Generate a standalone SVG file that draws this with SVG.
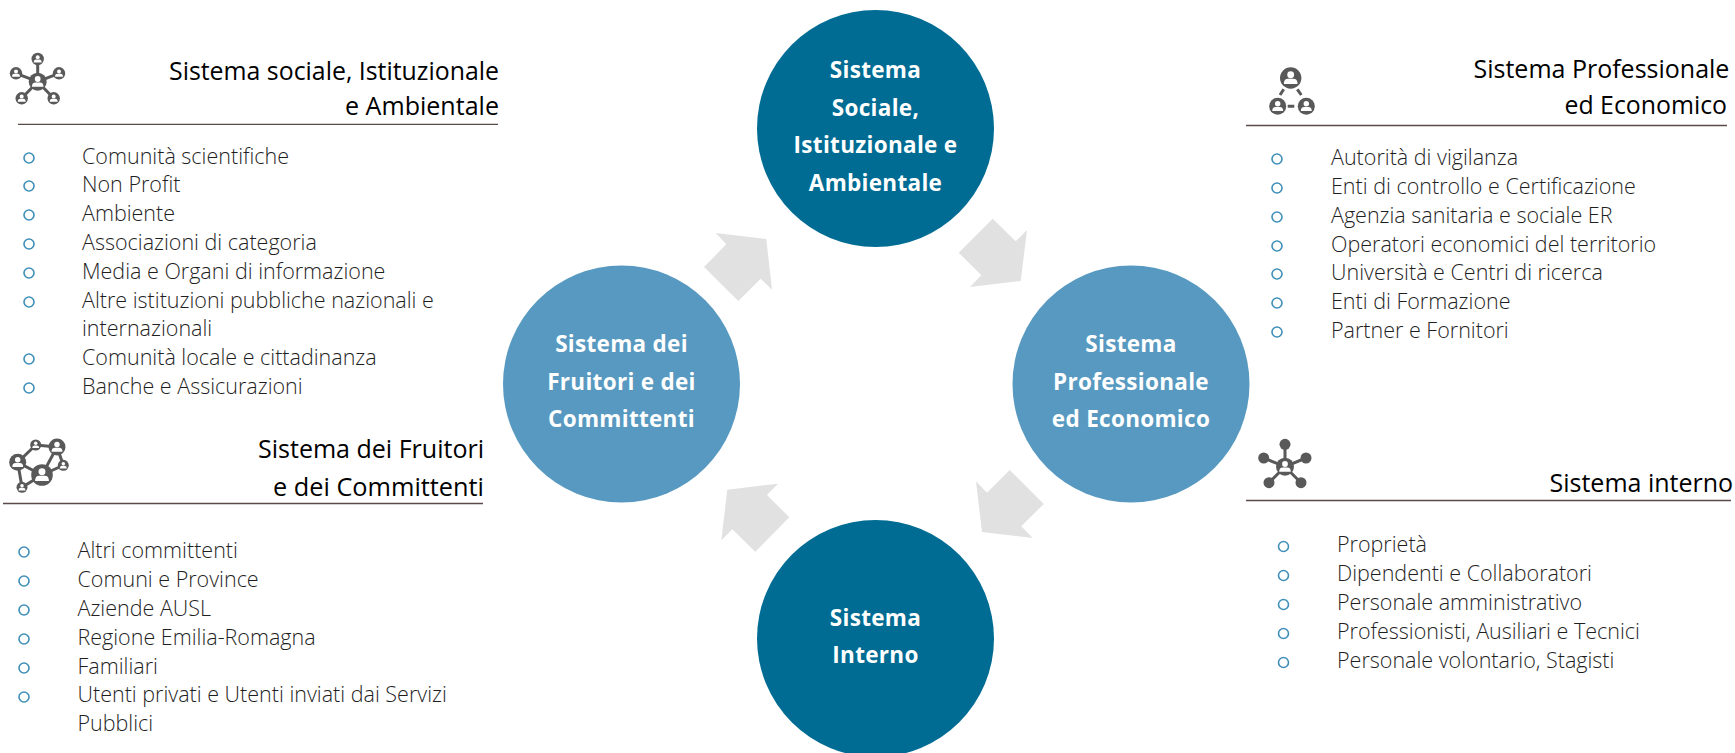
<svg xmlns="http://www.w3.org/2000/svg" width="1735" height="753" viewBox="0 0 1735 753">
<style>
.t{font-family:"Open Sans","Noto Sans","Liberation Sans",sans-serif;font-weight:300;font-size:21.500px;fill:#1f1f1f}
.h{font-family:"Open Sans","Noto Sans","Liberation Sans",sans-serif;font-weight:400;font-size:26px;fill:#000}
.s{font-size:25px}
.c{font-family:"Open Sans","Noto Sans","Liberation Sans",sans-serif;font-weight:700;font-size:22.500px;letter-spacing:.3px;fill:#fff;text-anchor:middle}
.b{fill:none;stroke:#3f8fb8;stroke-width:1.6}
.r{stroke:#5b4a4a;stroke-width:1.3}
.l{stroke:#595959;stroke-width:3;fill:none}
.a{fill:#e1e1e1}
.d{fill:#006c93}.m{fill:#5799c0}
.i{fill:#595959}
</style>
<defs>
<g id="p"><circle r="10" class="i"/><circle cy="-3" r="3.200" fill="#fff"/><path d="M-6.400 5.600Q-6.400 .8-2.500 .8H2.500Q6.400 .8 6.400 5.600Z" fill="#fff"/></g>
</defs>
<g id="connectors">
<polygon class="a" points="992.7,218.7 1015.7,241.3 1027,230 1020.7,281 970,287 981.3,275.3 958.7,252.7"/>
<polygon class="a" points="976,481.3 987,492.7 1009.7,470 1043.7,504 1021.3,526.3 1032.7,538 982,532"/>
<polygon class="a" points="778,483.7 767,495 789.3,517.3 755.3,551.7 732.3,529.3 721.3,540.3 727.3,489.7"/>
<polygon class="a" points="715.7,233 766.3,239 772,289.7 760.7,278.7 738.3,301 704,267 726.3,244.3"/>
</g>
<g id="node-sociale"><circle class="d" cx="875.500" cy="128.500" r="118.500"/>
<text class="c" x="875.500" y="78">Sistema</text><text class="c" x="875.500" y="115.500">Sociale,</text><text class="c" x="875.500" y="153">Istituzionale e</text><text class="c" x="875.500" y="190.500">Ambientale</text></g>
<g id="node-professionale"><circle class="m" cx="1131" cy="384" r="118.500"/>
<text class="c" x="1131" y="352">Sistema</text><text class="c" x="1131" y="389.500">Professionale</text><text class="c" x="1131" y="427">ed Economico</text></g>
<g id="node-interno"><circle class="d" cx="875.500" cy="638.500" r="118.500"/>
<text class="c" x="875.500" y="626">Sistema</text><text class="c" x="875.500" y="663">Interno</text></g>
<g id="node-fruitori"><circle class="m" cx="621.500" cy="384" r="118.500"/>
<text class="c" x="621.500" y="352">Sistema dei</text><text class="c" x="621.500" y="389.500">Fruitori e dei</text><text class="c" x="621.500" y="427">Committenti</text></g>

<g id="panel-sociale">
<g id="icon-sociale"><path class="l" d="M37.700 81.700L37.700 59M37.700 81.700L16 73.300M37.700 81.700L59 73.300M37.700 81.700L21.700 98.300M37.700 81.700L53.700 98.300"/>
<use href="#p" transform="translate(37.700 81.700) scale(.9)"/><use href="#p" transform="translate(37.700 59) scale(.62)"/><use href="#p" transform="translate(16 73.300) scale(.62)"/><use href="#p" transform="translate(59 73.300) scale(.62)"/><use href="#p" transform="translate(21.700 98.300) scale(.62)"/><use href="#p" transform="translate(53.700 98.300) scale(.62)"/></g>
<text class="h" x="169" y="80" textLength="330" lengthAdjust="spacingAndGlyphs">Sistema sociale, Istituzionale</text><text class="h" x="345" y="115" textLength="154" lengthAdjust="spacingAndGlyphs">e Ambientale</text>
<line class="r" x1="18" y1="124.300" x2="498" y2="124.300"/>
<g><circle class="b" cx="29" cy="158" r="5"/><circle class="b" cx="29" cy="186" r="5"/><circle class="b" cx="29" cy="215" r="5"/><circle class="b" cx="29" cy="244" r="5"/><circle class="b" cx="29" cy="273" r="5"/><circle class="b" cx="29" cy="302" r="5"/><circle class="b" cx="29" cy="359" r="5"/><circle class="b" cx="29" cy="388" r="5"/></g>
<text class="t" x="82" y="163.700">Comunità scientifiche</text><text class="t" x="82" y="191.700">Non Profit</text><text class="t" x="82" y="220.700">Ambiente</text><text class="t" x="82" y="249.700">Associazioni di categoria</text><text class="t" x="82" y="278.700">Media e Organi di informazione</text><text class="t" x="82" y="307.700">Altre istituzioni pubbliche nazionali e</text><text class="t" x="82" y="335.700">internazionali</text><text class="t" x="82" y="364.700">Comunità locale e cittadinanza</text><text class="t" x="82" y="393.700">Banche e Assicurazioni</text>
</g>

<g id="panel-fruitori">
<g id="icon-fruitori"><path class="l" d="M35.700 445L57 447L42 475L17.700 462.300L35.700 445M17.700 462.300L22 487.300L42 475M57 447L63.300 465.300L42 475"/>
<use href="#p" transform="translate(42 475) scale(1.08)"/><use href="#p" transform="translate(57 447) scale(.85)"/><use href="#p" transform="translate(17.700 462.300) scale(.85)"/><use href="#p" transform="translate(35.700 445) scale(.55)"/><use href="#p" transform="translate(22 487.300) scale(.55)"/><use href="#p" transform="translate(63.300 465.300) scale(.55)"/></g>
<text class="h" x="258" y="458" textLength="226" lengthAdjust="spacingAndGlyphs">Sistema dei Fruitori</text><text class="h" x="273" y="496" textLength="211" lengthAdjust="spacingAndGlyphs">e dei Committenti</text>
<line class="r" x1="3" y1="503.500" x2="483" y2="503.500"/>
<g><circle class="b" cx="24" cy="552" r="5"/><circle class="b" cx="24" cy="581" r="5"/><circle class="b" cx="24" cy="610" r="5"/><circle class="b" cx="24" cy="639" r="5"/><circle class="b" cx="24" cy="668" r="5"/><circle class="b" cx="24" cy="697" r="5"/></g>
<text class="t" x="77.500" y="558">Altri committenti</text><text class="t" x="77.500" y="587">Comuni e Province</text><text class="t" x="77.500" y="616">Aziende AUSL</text><text class="t" x="77.500" y="645">Regione Emilia-Romagna</text><text class="t" x="77.500" y="674">Familiari</text><text class="t" x="77.500" y="702">Utenti privati e Utenti inviati dai Servizi</text><text class="t" x="77.500" y="731">Pubblici</text>
</g>

<g id="panel-professionale">
<g id="icon-professionale"><path class="l" d="M1280 95L1283.700 89.300M1301.300 95L1297.300 89.300M1287.700 106.300H1294.300"/>
<use href="#p" transform="translate(1290.700 78) scale(1.07)"/><use href="#p" transform="translate(1277.700 106.300) scale(.85)"/><use href="#p" transform="translate(1306.300 106.300) scale(.85)"/></g>
<text class="h s" x="1473.500" y="78">Sistema Professionale</text><text class="h" x="1564.500" y="114" textLength="162.500" lengthAdjust="spacingAndGlyphs">ed Economico</text>
<line class="r" x1="1246" y1="125.500" x2="1727" y2="125.500"/>
<g><circle class="b" cx="1277" cy="159" r="5"/><circle class="b" cx="1277" cy="188" r="5"/><circle class="b" cx="1277" cy="217" r="5"/><circle class="b" cx="1277" cy="246" r="5"/><circle class="b" cx="1277" cy="274" r="5"/><circle class="b" cx="1277" cy="303" r="5"/><circle class="b" cx="1277" cy="332" r="5"/></g>
<text class="t" x="1331" y="164.700">Autorità di vigilanza</text><text class="t" x="1331" y="193.700">Enti di controllo e Certificazione</text><text class="t" x="1331" y="222.700">Agenzia sanitaria e sociale ER</text><text class="t" x="1331" y="251.700">Operatori economici del territorio</text><text class="t" x="1331" y="279.700">Università e Centri di ricerca</text><text class="t" x="1331" y="308.700">Enti di Formazione</text><text class="t" x="1331" y="337.700">Partner e Fornitori</text>
</g>

<g id="panel-interno">
<g id="icon-interno"><path class="l" d="M1285 466.700L1285 444.300M1285 466.700L1263.700 458M1285 466.700L1306 458M1285 466.700L1269 482.700M1285 466.700L1301 482.700"/>
<circle class="i" cx="1285" cy="444.300" r="5.500"/><circle class="i" cx="1263.700" cy="458" r="5.500"/><circle class="i" cx="1306" cy="458" r="5.500"/><circle class="i" cx="1269" cy="482.700" r="5.500"/><circle class="i" cx="1301" cy="482.700" r="5.500"/>
<use href="#p" transform="translate(1285 466.700) scale(.9)"/></g>
<text class="h s" x="1549.500" y="492">Sistema interno</text>
<line class="r" x1="1246" y1="500.500" x2="1731" y2="500.500"/>
<g><circle class="b" cx="1283.500" cy="546.500" r="5"/><circle class="b" cx="1283.500" cy="575.500" r="5"/><circle class="b" cx="1283.500" cy="604.500" r="5"/><circle class="b" cx="1283.500" cy="633.500" r="5"/><circle class="b" cx="1283.500" cy="662.500" r="5"/></g>
<text class="t" x="1337" y="552">Proprietà</text><text class="t" x="1337" y="581">Dipendenti e Collaboratori</text><text class="t" x="1337" y="610">Personale amministrativo</text><text class="t" x="1337" y="639">Professionisti, Ausiliari e Tecnici</text><text class="t" x="1337" y="668">Personale volontario, Stagisti</text>
</g>
</svg>
